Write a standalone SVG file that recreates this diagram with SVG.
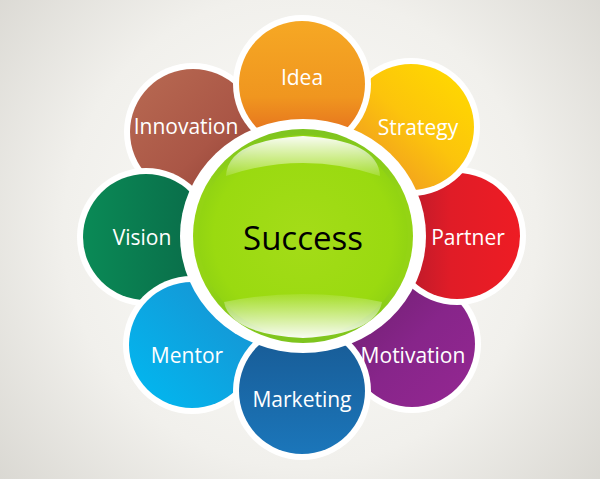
<svg xmlns="http://www.w3.org/2000/svg" width="600" height="479" viewBox="0 0 600 479">
<defs>
  <radialGradient id="bg" cx="300" cy="230" r="430" gradientUnits="userSpaceOnUse">
    <stop offset="0" stop-color="#FDFDFB"/>
    <stop offset="0.55" stop-color="#F1F0EC"/>
    <stop offset="1" stop-color="#D4D2CC"/>
  </radialGradient>
  <linearGradient id="gIdea" x1="0" y1="0" x2="0" y2="1">
    <stop offset="0" stop-color="#F6A824"/>
    <stop offset="0.6" stop-color="#F0961F"/>
    <stop offset="1" stop-color="#E2661E"/>
  </linearGradient>
  <linearGradient id="gStrategy" x1="0.9" y1="0.1" x2="0.2" y2="0.9">
    <stop offset="0" stop-color="#FFD800"/>
    <stop offset="0.5" stop-color="#FCC40C"/>
    <stop offset="1" stop-color="#F09A22"/>
  </linearGradient>
  <linearGradient id="gPartner" x1="0" y1="0" x2="1" y2="0">
    <stop offset="0" stop-color="#B01A2C"/>
    <stop offset="0.45" stop-color="#E01C27"/>
    <stop offset="1" stop-color="#EE1C24"/>
  </linearGradient>
  <linearGradient id="gMotivation" x1="0" y1="0" x2="1" y2="1">
    <stop offset="0" stop-color="#6E1F6E"/>
    <stop offset="0.5" stop-color="#87258A"/>
    <stop offset="1" stop-color="#952792"/>
  </linearGradient>
  <linearGradient id="gMarketing" x1="0" y1="0" x2="0" y2="1">
    <stop offset="0" stop-color="#185A94"/>
    <stop offset="1" stop-color="#1B76BA"/>
  </linearGradient>
  <linearGradient id="gMentor" x1="0" y1="1" x2="1" y2="0">
    <stop offset="0" stop-color="#00BAF2"/>
    <stop offset="1" stop-color="#1A8FCF"/>
  </linearGradient>
  <linearGradient id="gVision" x1="0" y1="0" x2="1" y2="0">
    <stop offset="0" stop-color="#0A8A56"/>
    <stop offset="1" stop-color="#0A6A48"/>
  </linearGradient>
  <linearGradient id="gInnovation" x1="0" y1="0" x2="1" y2="1">
    <stop offset="0" stop-color="#B86A52"/>
    <stop offset="0.6" stop-color="#AA5646"/>
    <stop offset="1" stop-color="#8E3F34"/>
  </linearGradient>
  <radialGradient id="gGreen" cx="0.5" cy="0.5" r="0.5">
    <stop offset="0" stop-color="#A4DC18"/>
    <stop offset="0.85" stop-color="#9ADA10"/>
    <stop offset="1" stop-color="#92D412"/>
  </radialGradient>
  <linearGradient id="gRim" x1="0" y1="0" x2="0" y2="1">
    <stop offset="0" stop-color="#7EC41E"/>
    <stop offset="0.3" stop-color="#94D414"/>
    <stop offset="0.7" stop-color="#94D414"/>
    <stop offset="1" stop-color="#7EC41E"/>
  </linearGradient>
  <linearGradient id="hlTop" x1="0" y1="0" x2="0" y2="1">
    <stop offset="0" stop-color="#FFFFFF" stop-opacity="0.95"/>
    <stop offset="1" stop-color="#FFFFFF" stop-opacity="0.15"/>
  </linearGradient>
  <linearGradient id="hlBot" x1="0" y1="1" x2="0" y2="0">
    <stop offset="0" stop-color="#FFFFFF" stop-opacity="0.95"/>
    <stop offset="1" stop-color="#FFFFFF" stop-opacity="0.1"/>
  </linearGradient>
</defs>
<style>
  .ring { fill: #FFFFFF; }
  .lbl { font-family: "Open Sans", "Liberation Sans", sans-serif; font-size: 21px; fill: #FFFFFF; text-anchor: middle; }
  .center { font-family: "Open Sans", "Liberation Sans", sans-serif; font-size: 33px; fill: #000000; text-anchor: middle; }
</style>
<rect width="600" height="479" fill="url(#bg)"/>
<g id="connectors"/>
<g id="innovation">
  <circle class="ring" cx="193" cy="132" r="69"/>
  <circle cx="193" cy="132" r="63" fill="url(#gInnovation)"/>
  <text class="lbl" x="186" y="134">Innovation</text>
</g>
<g id="motivation">
  <circle class="ring" cx="412" cy="344" r="69"/>
  <circle cx="412" cy="344" r="63" fill="url(#gMotivation)"/>
  <text class="lbl" x="413" y="363">Motivation</text>
</g>
<g id="vision">
  <circle class="ring" cx="146" cy="237" r="69"/>
  <circle cx="146" cy="237" r="63" fill="url(#gVision)"/>
  <text class="lbl" x="142" y="245">Vision</text>
</g>
<g id="partner">
  <circle class="ring" cx="457" cy="236" r="69"/>
  <circle cx="457" cy="236" r="63" fill="url(#gPartner)"/>
  <text class="lbl" x="468" y="245">Partner</text>
</g>
<g id="mentor">
  <circle class="ring" cx="192" cy="345" r="69"/>
  <circle cx="192" cy="345" r="63" fill="url(#gMentor)"/>
  <text class="lbl" x="187" y="363">Mentor</text>
</g>
<g id="strategy">
  <circle class="ring" cx="411" cy="127" r="69"/>
  <circle cx="411" cy="127" r="63" fill="url(#gStrategy)"/>
  <text class="lbl" x="418" y="135">Strategy</text>
</g>
<g id="marketing">
  <circle class="ring" cx="302" cy="391" r="69"/>
  <circle cx="302" cy="391" r="63" fill="url(#gMarketing)"/>
  <text class="lbl" x="302" y="407">Marketing</text>
</g>
<g id="idea">
  <circle class="ring" cx="302" cy="84" r="69"/>
  <circle cx="302" cy="84" r="63" fill="url(#gIdea)"/>
  <text class="lbl" x="302" y="84.5">Idea</text>
</g>
<g id="success">
  <ellipse class="ring" cx="303" cy="236" rx="123" ry="117"/>
  <ellipse cx="303" cy="236" rx="110" ry="107" fill="url(#gRim)"/>
  <ellipse cx="303" cy="236" rx="105" ry="101" fill="url(#gGreen)"/>
  <path d="M226 176 Q228 140 303 136 Q378 140 380 176 Q303 150 226 176 Z" fill="url(#hlTop)"/>
  <path d="M224 302 Q303 286 382 302 Q376 334 303 338 Q230 334 224 302 Z" fill="url(#hlBot)"/>
  <text class="center" x="303" y="250">Success</text>
</g>
</svg>
